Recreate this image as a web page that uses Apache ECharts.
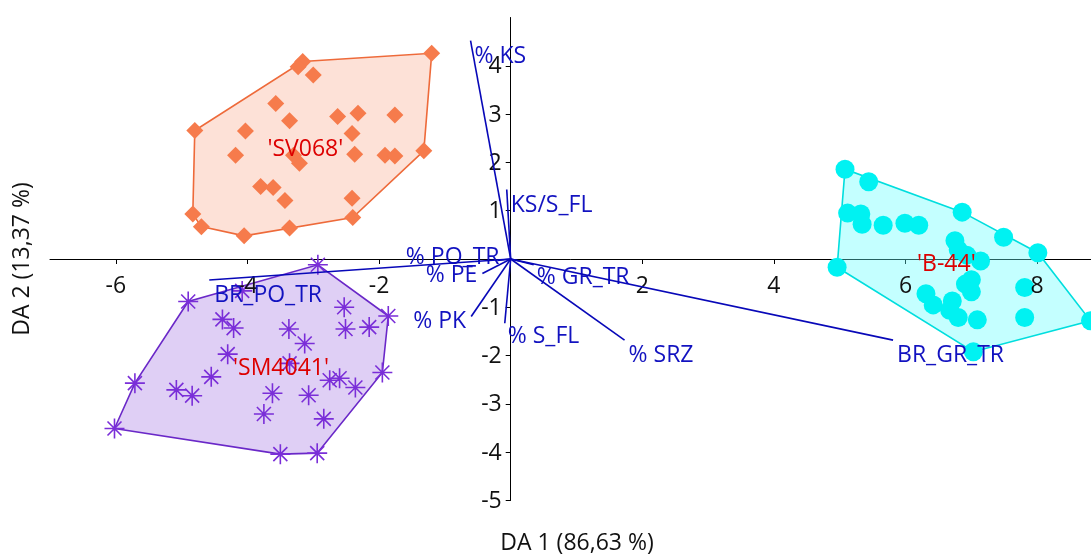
<!DOCTYPE html>
<html><head><meta charset="utf-8">
<script src="https://cdn.jsdelivr.net/npm/echarts@6/dist/echarts.min.js"></script>
<style>html,body{margin:0;padding:0;background:#fff}#c{width:1091px;height:555px}</style>
</head><body><div id="c"></div>
<script>
// ---------- DATA ----------
const groupNames = ["'SV068'", "'SM4041'", "'B-44'"];
const groupLabelX = [-3.12, -3.49, 6.62];
const groupLabelY = [2.26, -2.26, -0.12];

const sv068X = [-1.20,-3.16,-3.23,-3.00,-3.57,-3.36,-2.63,-2.32,-1.76,-4.03,-4.80,-2.41,-4.18,-3.21,-3.30,-2.37,-1.91,-1.76,-1.32,-3.80,-3.61,-3.43,-2.41,-4.83,-4.70,-4.05,-3.36,-2.40];
const sv068Y = [4.26,4.09,3.98,3.81,3.22,2.86,2.95,3.02,2.98,2.65,2.66,2.60,2.15,1.98,2.15,2.17,2.15,2.13,2.24,1.50,1.48,1.21,1.26,0.93,0.67,0.48,0.64,0.86];

const sm4041X = [-2.93,-4.90,-4.08,-4.38,-4.21,-3.37,-3.13,-2.53,-2.51,-2.15,-1.86,-4.30,-3.36,-4.55,-5.08,-4.84,-5.71,-6.02,-3.62,-3.07,-3.75,-2.84,-2.75,-2.60,-2.36,-1.95,-3.50,-2.94];
const sm4041Y = [-0.12,-0.88,-0.66,-1.25,-1.43,-1.45,-1.75,-1.00,-1.45,-1.41,-1.18,-1.97,-2.16,-2.44,-2.71,-2.83,-2.57,-3.51,-2.78,-2.82,-3.21,-3.31,-2.51,-2.47,-2.66,-2.35,-4.04,-4.02];

const b44X = [5.08,5.44,5.12,5.32,5.34,5.66,5.99,6.20,6.86,6.75,7.49,8.01,6.80,6.93,7.14,4.96,7.00,6.91,7.00,6.31,6.42,6.71,6.67,6.80,7.09,7.81,7.81,7.03,8.81];
const b44Y = [1.86,1.60,0.95,0.93,0.72,0.70,0.74,0.70,0.97,0.38,0.45,0.13,0.19,0.08,-0.04,-0.17,-0.43,-0.52,-0.68,-0.72,-0.95,-0.87,-1.06,-1.21,-1.26,-0.59,-1.21,-1.92,-1.28];

const vectorNames = ['% KS','KS/S_FL','% PO_TR','% PE','% PK','% S_FL','% GR_TR','% SRZ','BR_GR_TR','BR_PO_TR'];
const vectorX = [-0.61,-0.06,-0.20,-0.43,-0.60,-0.09,0.35,1.73,5.81,-4.58];
const vectorY = [4.52,1.44,-0.03,-0.30,-1.19,-1.33,-0.12,-1.68,-1.68,-0.435];

const xTickValues = [-6,-4,-2,2,4,6,8];
const yTickValues = [-5,-4,-3,-2,-1,1,2,3,4];
const xAxisTitle = 'DA 1 (86,63 %)';
const yAxisTitle = 'DA 2 (13,37 %)';

// ---------- LAYOUT / STYLE ----------
const FONT = '"Open Sans", "Noto Sans", sans-serif';
const FS = 23;
const vectorLabelLayout = [
  {dx:4, dy:16, align:'left'},
  {dx:4, dy:16, align:'left'},
  {dx:2, dy:-3, align:'right'},
  {dx:-5, dy:2, align:'right'},
  {dx:-5, dy:5, align:'right'},
  {dx:3, dy:13, align:'left'},
  {dx:3, dy:13, align:'left'},
  {dx:4, dy:15, align:'left'},
  {dx:4, dy:15, align:'left'},
  {dx:5, dy:15, align:'left'}
];
const groupStyle = [
  {symbol:'diamond', size:17, color:'#f67b4c', fill:'rgba(250,170,140,0.35)', stroke:'#ee6a3a'},
  {symbol:'path://M10,0L10,20M0,10L20,10M3,3L17,17M3,17L17,3', size:20, color:'#7a2ed8', fill:'rgba(170,130,230,0.38)', stroke:'#6a28c8'},
  {symbol:'circle', size:19, color:'#00f2f2', fill:'rgba(100,255,255,0.38)', stroke:'#00dede'}
];

function zip(xs, ys){ return xs.map((x,i)=>[x, ys[i]]); }
function hull(pts){
  const p = pts.slice().sort((a,b)=>a[0]-b[0]||a[1]-b[1]);
  const cross=(o,a,b)=>(a[0]-o[0])*(b[1]-o[1])-(a[1]-o[1])*(b[0]-o[0]);
  const lo=[],up=[];
  for(const q of p){ while(lo.length>=2&&cross(lo[lo.length-2],lo[lo.length-1],q)<=0) lo.pop(); lo.push(q); }
  for(let i=p.length-1;i>=0;i--){const q=p[i]; while(up.length>=2&&cross(up[up.length-2],up[up.length-1],q)<=0) up.pop(); up.push(q); }
  up.pop(); lo.pop(); return lo.concat(up);
}

const groups = [zip(sv068X,sv068Y), zip(sm4041X,sm4041Y), zip(b44X,b44Y)];
const series = [];
groups.forEach((pts,gi)=>{
  const h = hull(pts);
  const st = groupStyle[gi];
  series.push({
    type:'custom', z:1, silent:true, data:[[0,0]], clip:false,
    renderItem:(params, api)=>({
      type:'polygon',
      shape:{points:h.map(p=>api.coord(p))},
      style:{fill:st.fill, stroke:st.stroke, lineWidth:1.6}
    })
  });
  series.push({
    type:'scatter', z:3, data:pts, symbol:st.symbol, symbolSize:st.size,
    itemStyle: gi===1 ? {color:st.color, borderColor:st.color, borderWidth:1.6, opacity:1} : {color:st.color, opacity:1},
    emphasis:{disabled:true}
  });
});
// axis tick labels drawn at the crossing axes
series.push({
  type:'custom', z:4, silent:true, clip:false,
  data: xTickValues.map(v=>[v,0]),
  renderItem:(params, api)=>{
    const c = api.coord([api.value(0), 0]);
    return {type:'text', x:c[0], y:c[1]+27, style:{text:String(api.value(0)), fill:'#111', font:FS+'px '+FONT, align:'center', verticalAlign:'middle'}};
  }
});
series.push({
  type:'custom', z:4, silent:true, clip:false,
  data: yTickValues.map(v=>[0,v]),
  renderItem:(params, api)=>{
    const c = api.coord([0, api.value(1)]);
    return {type:'text', x:c[0]-9, y:c[1]+1, style:{text:String(api.value(1)), fill:'#111', font:FS+'px '+FONT, align:'right', verticalAlign:'middle'}};
  }
});
series.push({
  type:'custom', z:5, silent:true, clip:false,
  data: vectorX.map((x,i)=>[x, vectorY[i]]),
  renderItem:(params, api)=>{
    const o = api.coord([0,0]);
    const e = api.coord([api.value(0), api.value(1)]);
    const L = vectorLabelLayout[params.dataIndex];
    return {type:'group', children:[
      {type:'line', shape:{x1:o[0],y1:o[1],x2:e[0],y2:e[1]}, style:{stroke:'#0808b8', lineWidth:1.6}},
      {type:'text', x:e[0]+L.dx, y:e[1]+L.dy, style:{text:vectorNames[params.dataIndex], fill:'#1212c0', font:FS+'px '+FONT, align:L.align, verticalAlign:'middle'}}
    ]};
  }
});
series.push({
  type:'custom', z:6, silent:true, clip:false,
  data: groupLabelX.map((x,i)=>[x, groupLabelY[i]]),
  renderItem:(params, api)=>{
    const c = api.coord([api.value(0), api.value(1)]);
    return {type:'text', x:c[0], y:c[1], style:{text:groupNames[params.dataIndex], fill:'#dd0000', font:FS+'px '+FONT, align:'center', verticalAlign:'middle'}};
  }
});

const chart = echarts.init(document.getElementById('c'), null, {renderer:'canvas'});
chart.setOption({
  animation:false,
  backgroundColor:'#ffffff',
  grid:{left:50, right:-12, top:17.5, bottom:54.5, containLabel:false, outerBoundsMode:'none'},
  xAxis:{
    type:'value', min:-7, max:9,
    axisLine:{onZero:true, lineStyle:{color:'#000', width:1}},
    axisTick:{show:true, customValues:xTickValues, length:5, lineStyle:{color:'#000'}},
    axisLabel:{show:false},
    splitLine:{show:false}
  },
  yAxis:{
    type:'value', min:-5, max:5,
    axisLine:{onZero:true, lineStyle:{color:'#000', width:1}},
    axisTick:{show:true, customValues:yTickValues, length:5, lineStyle:{color:'#000'}},
    axisLabel:{show:false},
    splitLine:{show:false}
  },
  graphic:[
    {type:'text', x:577, y:543, style:{text:xAxisTitle, font:FS+'px '+FONT, fill:'#111', align:'center', verticalAlign:'middle'}},
    {type:'text', x:22, y:259, rotation:Math.PI/2, style:{text:yAxisTitle, font:FS+'px '+FONT, fill:'#111', align:'center', verticalAlign:'middle'}}
  ],
  series: series
});
</script>
</body></html>
